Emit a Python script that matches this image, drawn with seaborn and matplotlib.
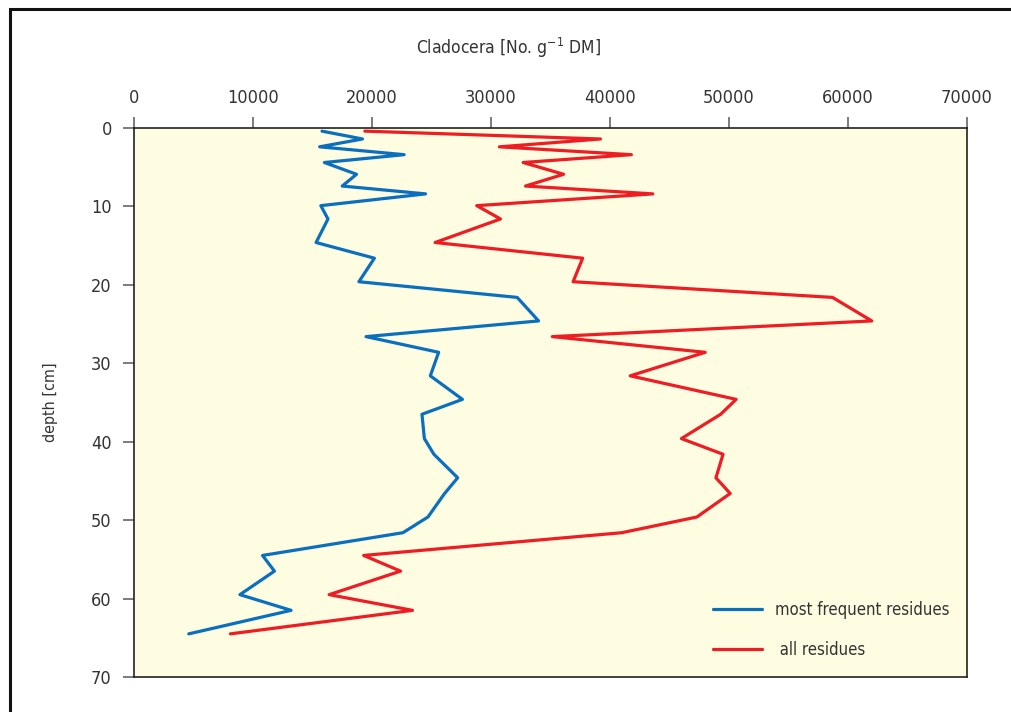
import matplotlib
matplotlib.use("Agg")
import matplotlib.pyplot as plt
import seaborn as sns
import pandas as pd
from matplotlib.patches import Rectangle

depth = [0.4, 1.4, 2.4, 3.4, 4.4, 5.9, 7.4, 8.4, 9.9, 11.6, 14.6, 16.6, 19.6, 21.6,
         24.6, 26.6, 28.6, 31.6, 34.6, 36.5, 39.6, 41.6, 44.6, 46.6, 49.6, 51.6,
         54.5, 56.5, 59.5, 61.5, 64.5]
most_frequent = [15800, 19200, 15600, 22700, 16000, 18700, 17500, 24500, 15700, 16300,
                 15300, 20200, 18900, 32200, 34000, 19500, 25600, 24900, 27600, 24200,
                 24400, 25200, 27200, 26100, 24700, 22600, 10800, 11800, 8900, 13200, 4600]
all_res = [19400, 39200, 30700, 41800, 32700, 36100, 32900, 43600, 28800, 30800,
           25300, 37700, 36900, 58700, 62000, 35150, 48000, 41700, 50600, 49300,
           46000, 49500, 48900, 50100, 47300, 41000, 19300, 22400, 16400, 23400, 8100]
series_names = ["most frequent residues", " all residues"]
x_ticks = [0, 10000, 20000, 30000, 40000, 50000, 60000, 70000]
y_ticks = [0, 10, 20, 30, 40, 50, 60, 70]

df = pd.concat([
    pd.DataFrame({"depth": depth, "value": most_frequent, "series": series_names[0]}),
    pd.DataFrame({"depth": depth, "value": all_res, "series": series_names[1]}),
])

sns.set_style("white")
plt.rcParams['font.family'] = ['DejaVu Sans']
plt.rcParams['font.stretch'] = 'condensed'
plt.rcParams['mathtext.fontset'] = 'custom'
plt.rcParams['mathtext.rm'] = 'DejaVu Sans:stretch=condensed'
W, H = 1011, 712
fig = plt.figure(figsize=(W / 100, H / 100), dpi=100)
ax = fig.add_axes([134 / W, 1 - 677 / H, (967 - 134) / W, (677 - 128) / H])
ax.set_facecolor("#FEFCE1")

sns.lineplot(data=df, x="value", y="depth", hue="series", sort=False, estimator=None,
             palette=["#0A6FBE", "#EE1D24"], linewidth=2.3, ax=ax)

ax.set_xlim(0, 70000)
ax.set_ylim(70, 0)
ax.set_xticks(x_ticks)
ax.set_yticks(y_ticks)
ax.set_xticklabels([str(v) for v in x_ticks])
ax.xaxis.tick_top()
ax.tick_params(axis="both", direction="out", length=8, width=1.2, color="#666666",
               labelsize=13, labelcolor="#333333", pad=6)
ax.tick_params(axis="y", left=True, pad=8)
ax.tick_params(axis="x", top=True, bottom=False, pad=7)
for s in ax.spines.values():
    s.set_color("#222222")
    s.set_linewidth(1.2)
ax.set_xlabel("")
ax.set_ylabel("depth [cm]", fontsize=11.5, color="#333333", labelpad=24)

fig.text(508 / W, 1 - 48 / H, "Cladocera [No. g$^{-1}$ DM]", ha="center", va="center",
         fontsize=12.5, color="#333333")

leg = ax.legend(loc="upper left", bbox_to_anchor=((713 - 134) / 833, (677 - 601) / 549),
                frameon=False, fontsize=12, handlelength=2.95, labelspacing=1.3,
                handletextpad=0.8, borderpad=0, borderaxespad=0)
for t in leg.get_texts():
    t.set_color("#333333")

fig.patches.append(Rectangle((9.5 / W, -0.1), 1.2, 1.1 - 9.5 / H, transform=fig.transFigure,
                             fill=False, edgecolor="#111111", linewidth=2.2))

fig.savefig("out.png", dpi=100)
